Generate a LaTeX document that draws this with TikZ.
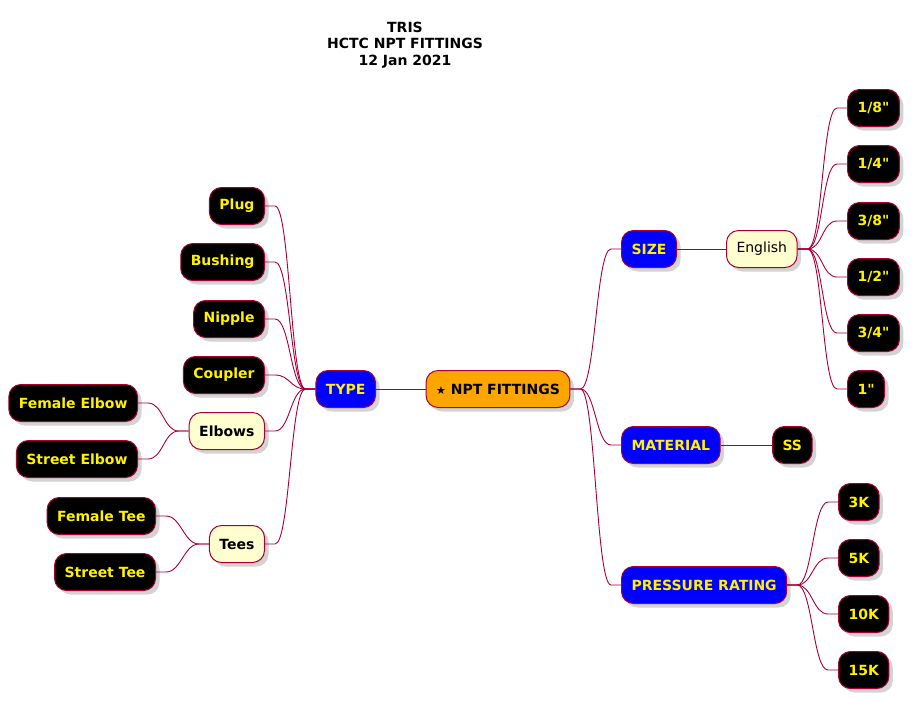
\documentclass[tikz,border=0pt]{standalone}
\usepackage{fontspec}
\setmainfont{DejaVu Sans}[Ligatures=TeXOff]
\usetikzlibrary{calc,shadows}
\definecolor{edge}{HTML}{A80036}
\definecolor{pale}{HTML}{FEFECE}
\definecolor{amber}{HTML}{FFA500}
\tikzset{
  box/.style={draw=edge, line width=1pt, rounded corners=12pt, minimum height=37pt,
    inner xsep=10pt, font=\fontsize{14}{17}\selectfont\bfseries,
    drop shadow={shadow xshift=4pt, shadow yshift=-4pt, opacity=.35}},
  leaf/.style={box, fill=black, text=yellow},
  topic/.style={box, fill=blue, text=yellow},
  group/.style={box, fill=pale},
  link/.style={draw=edge, line width=0.9pt},
  rbranch/.style={to path={-- ++(10,0) .. controls +(15,0) and +(-15,0) .. ($(\tikztotarget)+(-10,0)$) -- (\tikztotarget)}},
  lbranch/.style={to path={-- ++(-10,0) .. controls +(-15,0) and +(15,0) .. ($(\tikztotarget)+(10,0)$) -- (\tikztotarget)}}
}
\begin{document}
\begin{tikzpicture}[x=1pt,y=-1pt]
\useasboundingbox (0,0) rectangle (917,710);
\node[font=\fontsize{14}{16.5}\selectfont\bfseries, align=center] (title) at (405,45) {TRIS\\HCTC NPT FITTINGS\\12 Jan 2021};
% centre
\node[box, fill=amber] (root) at (498,389) {{\fontsize{11}{13}\selectfont ★} NPT FITTINGS};
\node[topic, anchor=east] (type) at (376,389) {TYPE};
% right side
\node[topic, anchor=west] (size) at (621,249) {SIZE};
\node[group, anchor=west, font=\fontsize{14}{17}\selectfont] (eng) at (726,249) {English};
\node[leaf, anchor=west] (s18) at (847,108) {1/8"};
\node[leaf, anchor=west] (s14) at (847,164) {1/4"};
\node[leaf, anchor=west] (s38) at (847,221) {3/8"};
\node[leaf, anchor=west] (s12) at (847,277) {1/2"};
\node[leaf, anchor=west] (s34) at (847,333) {3/4"};
\node[leaf, anchor=west] (s1) at (847,389) {1"};
\node[topic, anchor=west] (mat) at (621,445) {MATERIAL};
\node[leaf, anchor=west] (ss) at (772,445) {SS};
\node[topic, anchor=west] (press) at (621,585) {PRESSURE RATING};
\node[leaf, anchor=west] (p3) at (838,502) {3K};
\node[leaf, anchor=west] (p5) at (838,558) {5K};
\node[leaf, anchor=west] (p10) at (838,614) {10K};
\node[leaf, anchor=west] (p15) at (838,670) {15K};
% left side
\node[leaf, anchor=east] (plug) at (265,206) {Plug};
\node[leaf, anchor=east] (bush) at (265,262) {Bushing};
\node[leaf, anchor=east] (nip) at (265,319) {Nipple};
\node[leaf, anchor=east] (coup) at (265,375) {Coupler};
\node[group, anchor=east] (elb) at (265,431) {Elbows};
\node[leaf, anchor=east] (felb) at (138,403) {Female Elbow};
\node[leaf, anchor=east] (selb) at (138,459) {Street Elbow};
\node[group, anchor=east] (tees) at (265,544) {Tees};
\node[leaf, anchor=east] (ftee) at (156,516) {Female Tee};
\node[leaf, anchor=east] (stee) at (156,572) {Street Tee};
% links
\draw[link] (root.west) -- (type.east);
\foreach \c in {size,mat,press} \draw[link] (root.east) to[rbranch] (\c.west);
\draw[link] (size.east) -- (eng.west);
\foreach \c in {s18,s14,s38,s12,s34,s1} \draw[link] (eng.east) to[rbranch] (\c.west);
\draw[link] (mat.east) -- (ss.west);
\foreach \c in {p3,p5,p10,p15} \draw[link] (press.east) to[rbranch] (\c.west);
\foreach \c in {plug,bush,nip,coup,elb,tees} \draw[link] (type.west) to[lbranch] (\c.east);
\foreach \c in {felb,selb} \draw[link] (elb.west) to[lbranch] (\c.east);
\foreach \c in {ftee,stee} \draw[link] (tees.west) to[lbranch] (\c.east);
\end{tikzpicture}
\end{document}
